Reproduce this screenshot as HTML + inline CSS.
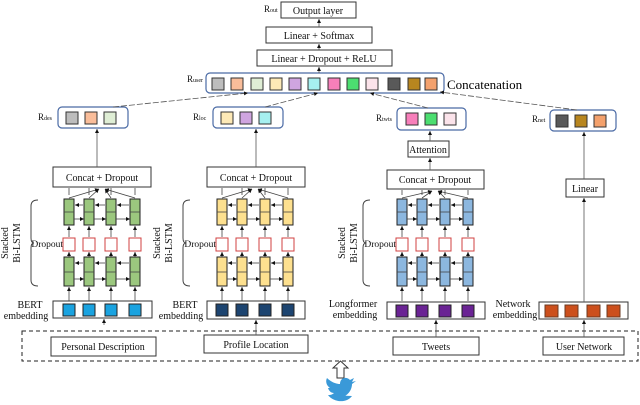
<!DOCTYPE html>
<html><head><meta charset="utf-8"><style>
html,body{margin:0;padding:0;background:#fff;width:640px;height:405px;overflow:hidden}
svg{display:block;font-family:"Liberation Serif",serif}
</style></head><body>
<svg id="s" width="640" height="405" viewBox="0 0 640 405" xmlns="http://www.w3.org/2000/svg">
<defs><marker id="a" markerWidth="6" markerHeight="6" refX="5" refY="3" orient="auto"><path d="M0,0.5 L5,3 L0,5.5z" fill="#111"/></marker></defs>
<g fill="#fff" stroke="#333" stroke-width="1">
<rect x="281" y="2" width="75" height="16"/>
<rect x="266" y="27" width="106" height="16"/>
<rect x="257" y="50" width="135" height="16"/>
<rect x="53" y="167" width="98" height="20"/>
<rect x="207" y="167" width="98" height="20"/>
<rect x="387" y="170" width="97" height="19"/>
<rect x="408" y="141" width="41" height="16"/>
<rect x="566" y="179" width="38" height="18"/>
<rect x="53" y="301" width="99" height="17"/>
<rect x="207" y="301" width="98" height="18"/>
<rect x="387" y="302" width="98" height="17"/>
<rect x="539" y="302" width="89" height="17"/>
<rect x="51" y="337" width="105" height="19"/>
<rect x="204" y="335" width="104" height="18"/>
<rect x="393" y="337" width="86" height="18"/>
<rect x="543" y="337" width="81" height="18"/>
</g>
<g fill="#fff" stroke="#4a6aa5" stroke-width="1.2">
<rect x="206" y="73" width="238" height="20" rx="4"/>
<rect x="58" y="107" width="70" height="21" rx="4"/>
<rect x="213" y="107" width="70" height="21" rx="4"/>
<rect x="397" y="108" width="69" height="22" rx="4"/>
<rect x="550" y="110" width="66" height="21" rx="4"/>
</g>
<rect x="22" y="331" width="616" height="30" fill="none" stroke="#222" stroke-dasharray="4,3"/>
<g stroke="#555" stroke-width="0.8" fill="none" marker-end="url(#a)">
<line x1="319" y1="27" x2="319" y2="19"/>
<line x1="319" y1="50" x2="319" y2="44"/>
<line x1="319" y1="73" x2="319" y2="67"/>
<line x1="113" y1="107" x2="248" y2="93" stroke-dasharray="6,2"/>
<line x1="265" y1="107" x2="318" y2="93" stroke-dasharray="6,2"/>
<line x1="428" y1="108" x2="370" y2="93" stroke-dasharray="6,2"/>
<line x1="577" y1="110" x2="440" y2="92" stroke-dasharray="6,2"/>
<line x1="97" y1="167" x2="97" y2="129"/>
<line x1="256" y1="167" x2="256" y2="129"/>
<line x1="430" y1="141" x2="430" y2="131"/>
<line x1="430" y1="170" x2="430" y2="158"/>
<line x1="584" y1="179" x2="584" y2="132"/>
<line x1="584" y1="302" x2="584" y2="198"/>
<line x1="584" y1="337" x2="584" y2="320"/>
<line x1="104" y1="325" x2="104" y2="319"/>
<line x1="256" y1="335" x2="256" y2="320"/>
<line x1="436" y1="337" x2="436" y2="320"/>
</g>
<g id="sq"></g>
<g font-size="10" fill="#111" text-anchor="middle">
<text x="318" y="14">Output layer</text>
<text x="319" y="39">Linear + Softmax</text>
<text x="324" y="62">Linear + Dropout + ReLU</text>
<text x="102" y="181">Concat + Dropout</text>
<text x="256" y="181">Concat + Dropout</text>
<text x="435" y="183">Concat + Dropout</text>
<text x="428" y="153">Attention</text>
<text x="585" y="192">Linear</text>
<text x="103" y="350">Personal Description</text>
<text x="256" y="348">Profile Location</text>
<text x="436" y="350">Tweets</text>
<text x="584" y="350">User Network</text>
<text x="30" y="308">BERT</text><text x="26" y="319">embedding</text>
<text x="185" y="308">BERT</text><text x="181" y="319">embedding</text>
<text x="353" y="307">Longformer</text><text x="355" y="318">embedding</text>
<text x="513" y="307">Network</text><text x="515" y="318">embedding</text>
</g>
<text x="447" y="89" font-size="13">Concatenation</text>
<g font-size="9" fill="#111">
<text x="264" y="12">R<tspan font-size="6">out</tspan></text>
<text x="187" y="82">R<tspan font-size="6">user</tspan></text>
<text x="38" y="120">R<tspan font-size="6">des</tspan></text>
<text x="193" y="120">R<tspan font-size="6">loc</tspan></text>
<text x="376" y="121">R<tspan font-size="6">twts</tspan></text>
<text x="532" y="122">R<tspan font-size="6">net</tspan></text>
</g>
<g font-size="9.5" fill="#111" text-anchor="end">
<text x="63" y="247">Dropout</text>
<text x="216" y="247">Dropout</text>
<text x="396" y="247">Dropout</text>
</g>
<g font-size="10" fill="#111" text-anchor="middle">
<text transform="translate(8,243) rotate(-90)">Stacked</text>
<text transform="translate(20,243) rotate(-90)">Bi-LSTM</text>
<text transform="translate(160,243) rotate(-90)">Stacked</text>
<text transform="translate(172,243) rotate(-90)">Bi-LSTM</text>
<text transform="translate(345,243) rotate(-90)">Stacked</text>
<text transform="translate(357,243) rotate(-90)">Bi-LSTM</text>
</g>
<g fill="none" stroke="#444" stroke-width="1">
<path d="M38,200 Q31,200 31,206 L31,238 Q31,243 34,243 Q31,243 31,248 L31,280 Q31,286 38,286"/>
<path d="M190,200 Q183,200 183,206 L183,238 Q183,243 186,243 Q183,243 183,248 L183,280 Q183,286 190,286"/>
<path d="M370,200 Q363,200 363,206 L363,238 Q363,243 366,243 Q363,243 363,248 L363,280 Q363,286 370,286"/>
</g>
<path d="M337,378 L337,368 L333,368 L340.5,361 L348,368 L344,368 L344,378z" fill="#fff" stroke="#333"/>
<path transform="translate(0,10)" d="M328,385 C334,389 339,389 343,387 C350,384 352,378 352,374 L356,371 L352,372 L354,368 L350,370 C346,366 340,368 340,374 C335,374 330,371 327,368 C325,372 327,376 330,378 L328,378 C329,381 331,383 334,383 C332,385 330,385 328,385 C333,392 346,394 352,386z" fill="#3a99d8"/>
</svg>
<script>
var g=document.getElementById('sq'),NS='http://www.w3.org/2000/svg';
function r(x,y,w,h,f,s,sw){var e=document.createElementNS(NS,'rect');e.setAttribute('x',x);e.setAttribute('y',y);e.setAttribute('width',w);e.setAttribute('height',h);e.setAttribute('fill',f);e.setAttribute('stroke',s||'#333');e.setAttribute('stroke-width',sw||1);g.appendChild(e);}
function l(x1,y1,x2,y2,m){var e=document.createElementNS(NS,'line');e.setAttribute('x1',x1);e.setAttribute('y1',y1);e.setAttribute('x2',x2);e.setAttribute('y2',y2);e.setAttribute('stroke','#444');e.setAttribute('stroke-width',0.8);if(m)e.setAttribute('marker-end','url(#a)');g.appendChild(e);}
var uc=['#bdbdbd','#f9bd9a','#dfeed5','#fde9b6','#cfa5e0','#a6f0f0','#f77fba','#4cde70','#fbe3ea','#595959','#b8861f','#f4a16c'];
var ux=[212,231,251,270,289,308,328,347,366,388,408,425];
ux.forEach(function(x,i){r(x,78,12,12,uc[i]);});
[[66,['#bdbdbd','#f9bd9a','#dfeed5']],[221,['#fde9b6','#cfa5e0','#a6f0f0']],[406,['#f77fba','#4cde70','#fbe3ea']],[556,['#595959','#b8861f','#f4a16c']]].forEach(function(b){var y=b[0]==406?113:(b[0]==556?115:112);b[1].forEach(function(c,i){r(b[0]+i*19,y,12,12,c);});});
function stack(xs,fill,cy,emb,ey){
 xs.forEach(function(x,i){
  l(x+5,cy.cat,x+5,195,0);
  r(x,199,10,26,fill,'#222');l(x,212,x+10,212);
  l(x+5,237,x+5,226,1);
  r(x-1,238,12,13,'#fff','#d04040');
  l(x+5,257,x+5,252,1);
  r(x,257,10,29,fill,'#222');l(x,272,x+10,272);
  l(x+5,301,x+5,287,1);
  r(x-1,ey,12,12,emb,'#222');
  if(i>0){l(x-1,205,xs[i-1]+11,205,1);l(xs[i-1]+10,219,x,219,1);l(x-1,263,xs[i-1]+11,263,1);l(xs[i-1]+10,279,x,279,1);}
 });
 var mx=(xs[0]+xs[3])/2+5;
 xs.forEach(function(x){l(x+5,198,mx+(x<mx?-3:3),cy.cat+1,1);});
}
stack([64,84,106,130],'#9bc77e',{cat:188},'#1aa3e0',304);
stack([217,237,260,283],'#fde08f',{cat:188},'#1c4470',304);
stack([397,417,440,463],'#8cb7df',{cat:190},'#6a2394',305);
[545,565,587,607].forEach(function(x){r(x,305,13,12,'#cc4f1c','#6b3a20');});
</script>
</body></html>
